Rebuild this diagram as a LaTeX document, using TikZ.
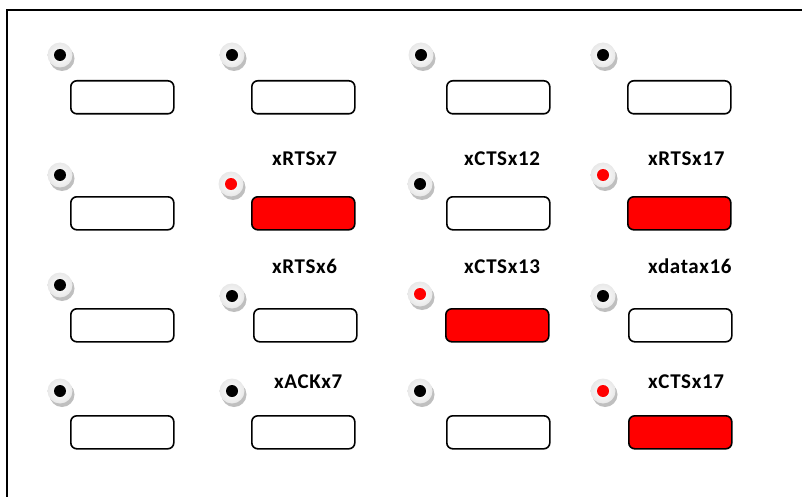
\documentclass[tikz,border=0pt]{standalone}
\usepackage{fontspec}
\setmainfont{Carlito}
\newfontfamily\lblfont[LetterSpace=3]{Carlito}
\begin{document}
\begin{tikzpicture}[x=1pt,y=-1pt,
  btnbox/.style={draw=black,line width=1.6pt,rounded corners=6pt,minimum width=103pt,minimum height=33pt,inner sep=0pt,anchor=north west},
  ledbase/.style={circle,minimum size=25pt,inner sep=0pt,draw=none,inner color=white,outer color=gray!18},
  ledshadow/.style={circle,minimum size=25pt,inner sep=0pt,fill=gray!50},
  leddot/.style={circle,minimum size=12pt,inner sep=0pt},
  lbl/.style={font=\lblfont\bfseries\fontsize{21}{23}\selectfont,inner sep=0pt,anchor=base west}]
\useasboundingbox (0,0) rectangle (802,497);
\draw[line width=2pt] (7,500) -- (7,10) -- (805,10);
% #1 name, #2 led x, #3 led y, #4 rect x, #5 rect y, #6 rect fill, #7 dot colour
\newcommand{\mybtn}[7]{%
  \node[ledshadow] (#1s) at (#2+2,#3+3.5) {};
  \node[ledbase] (#1l) at (#2,#3) {};
  \node[leddot,fill=#7] (#1d) at (#1l) {};
  \node[btnbox,fill=#6] (#1r) at (#4,#5) {};
}
\mybtn{a1}{60}{55}{70}{80}{white}{black}
\mybtn{b1}{232}{55}{251}{80}{white}{black}
\mybtn{c1}{421}{55}{446}{80}{white}{black}
\mybtn{d1}{603}{55}{627}{80}{white}{black}
\mybtn{a2}{60}{175}{70}{196}{white}{black}
\mybtn{b2}{231}{184}{251}{196}{red}{red}
\mybtn{c2}{420}{184}{446}{196}{white}{black}
\mybtn{d2}{603}{175}{627}{196}{red}{red}
\mybtn{a3}{60}{285}{70}{308}{white}{black}
\mybtn{b3}{232}{296}{253}{308}{white}{black}
\mybtn{c3}{420}{294}{445}{308}{red}{red}
\mybtn{d3}{603}{296}{628}{308}{white}{black}
\mybtn{a4}{60}{391}{70}{415}{white}{black}
\mybtn{b4}{232}{391}{251}{415}{white}{black}
\mybtn{c4}{420}{391}{446}{415}{white}{black}
\mybtn{d4}{603}{391}{628}{415}{red}{red}
\node[lbl] (t1) at (272,166) {xRTSx7};
\node[lbl] (t2) at (464,166) {xCTSx12};
\node[lbl] (t3) at (648,166) {xRTSx17};
\node[lbl] (t4) at (272,273) {xRTSx6};
\node[lbl] (t5) at (464,273) {xCTSx13};
\node[lbl] (t6) at (648,273) {xdatax16};
\node[lbl] (t7) at (274,388) {xACKx7};
\node[lbl] (t8) at (648,388) {xCTSx17};
\end{tikzpicture}
\end{document}
